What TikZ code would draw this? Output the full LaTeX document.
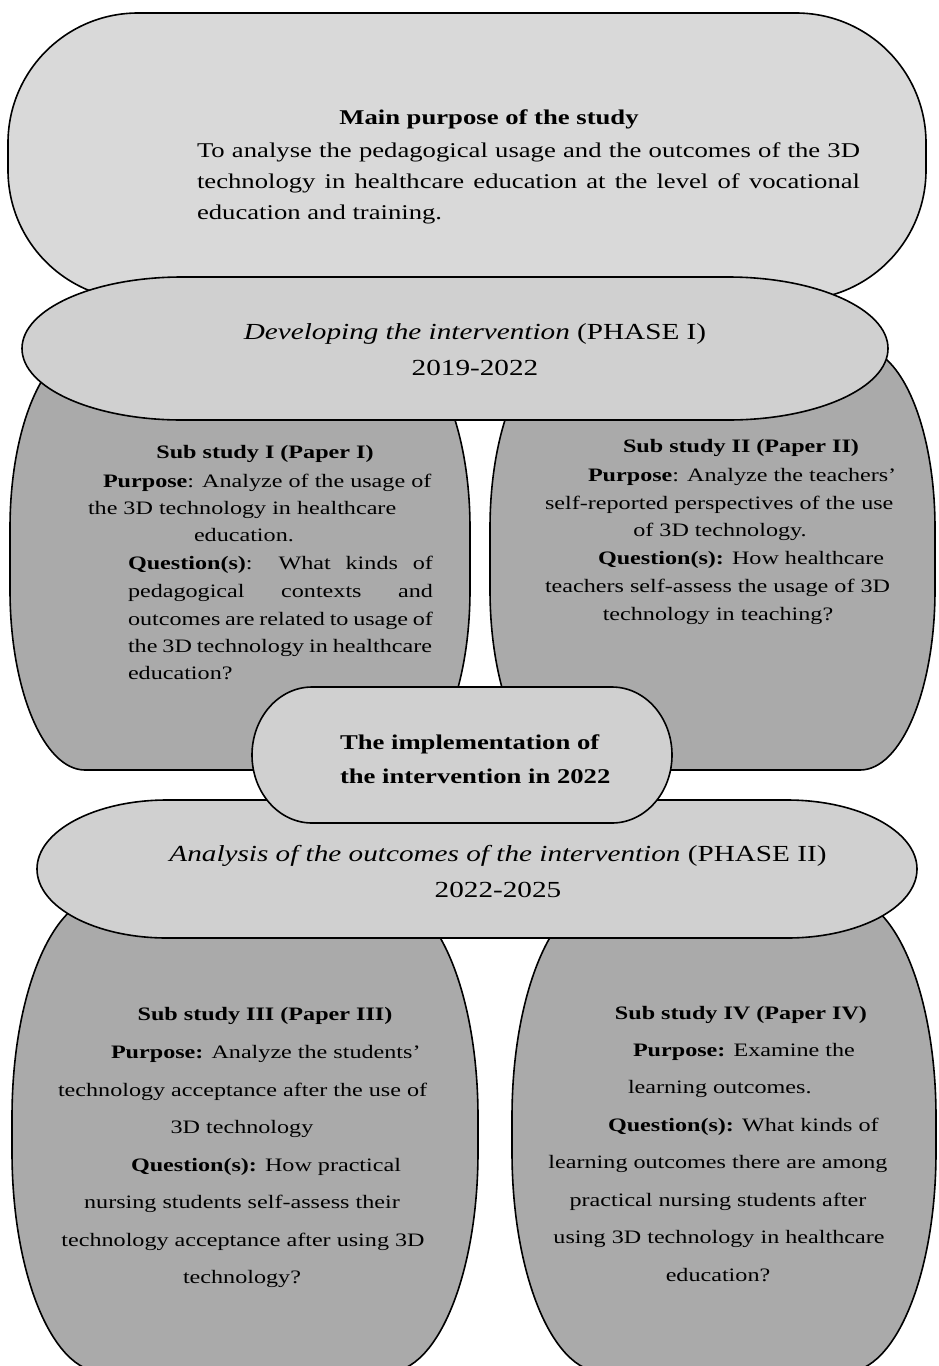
\documentclass[tikz,border=0pt]{standalone}
\usepackage{fontspec}
\setmainfont{Liberation Serif}[FakeStretch=1.27]
\newcommand\fszMain{\fontsize{21}{25}\selectfont}
\newcommand\fszPhase{\fontsize{23}{27}\selectfont}
\newcommand\fszSub{\fontsize{19}{23}\selectfont}
\newcommand\jbox[2]{\hbox to #1pt{#2}}
\definecolor{mainfill}{RGB}{217,217,217}
\definecolor{phasefill}{RGB}{208,208,208}
\definecolor{subfill}{RGB}{170,170,170}
% elliptical-corner rounded rectangle: x1 y1 x2 y2 rx ry style (pixel coords, y down)
\newcommand\rrshape[7]{%
  \path[#7] (#1+#5,-#2) -- (#3-#5,-#2)
    arc[start angle=90,end angle=0,x radius=#5,y radius=#6] -- (#3,-#4+#6)
    arc[start angle=0,end angle=-90,x radius=#5,y radius=#6] -- (#1+#5,-#4)
    arc[start angle=270,end angle=180,x radius=#5,y radius=#6] -- (#1,-#2-#6)
    arc[start angle=180,end angle=90,x radius=#5,y radius=#6] -- cycle;}
\begin{document}
\begin{tikzpicture}[x=1pt,y=1pt,
  box/.style={draw=black,line width=1.6pt},
  lbl/.style={inner sep=0pt,outer sep=0pt}]
\fill[white] (0,0) rectangle (938,-1366);
\useasboundingbox (0,0) rectangle (938,-1366);
\clip (0,0) rectangle (938,-1366);
% shapes
\rrshape{8}{13}{926}{300}{130}{130}{box,fill=mainfill}
\rrshape{10}{348}{470}{770}{75}{180}{box,fill=subfill}
\rrshape{490}{348}{935}{770}{75}{180}{box,fill=subfill}
\rrshape{22}{277}{888}{420}{160}{71.5}{box,fill=phasefill}
\rrshape{12}{897}{478}{1372}{90}{220}{box,fill=subfill}
\rrshape{512}{897}{936}{1372}{90}{220}{box,fill=subfill}
\rrshape{37}{800}{917}{938}{130}{69}{box,fill=phasefill}
\rrshape{252}{687}{672}{823}{60}{68}{box,fill=phasefill}
% main purpose
\node[lbl,anchor=base] (m0) at (489,-124) {\fszMain\bfseries Main purpose of the study};
\node[lbl,anchor=base west] (m1) at (197,-157) {\fszMain\jbox{663}{To analyse the pedagogical usage and the outcomes of the 3D}};
\node[lbl,anchor=base west] (m2) at (197,-188) {\fszMain\jbox{663}{technology in healthcare education at the level of vocational}};
\node[lbl,anchor=base west] (m3) at (197,-219) {\fszMain education and training.};
% phase I
\node[lbl,anchor=base] (p1a) at (475,-339) {\fszPhase\textit{Developing the intervention} (PHASE I)};
\node[lbl,anchor=base] (p1b) at (475,-375) {\fszPhase 2019-2022};
% sub study I
\node[lbl,anchor=base] (s1a) at (265,-458) {\fszSub\bfseries Sub study I (Paper I)};
\node[lbl,anchor=base west] (s1b) at (103,-487) {\fszSub\textbf{Purpose}: Analyze of the usage of};
\node[lbl,anchor=base west] (s1c) at (88,-514) {\fszSub the 3D technology in healthcare};
\node[lbl,anchor=base west] (s1d) at (194,-541) {\fszSub education.};
\node[lbl,anchor=base west] (s1e) at (128,-569) {\fszSub\jbox{305}{\textbf{Question(s)}: What kinds of}};
\node[lbl,anchor=base west] (s1f) at (128,-597) {\fszSub\jbox{305}{pedagogical contexts and}};
\node[lbl,anchor=base west] (s1g) at (128,-625) {\fszSub\jbox{305}{outcomes are related to usage of}};
\node[lbl,anchor=base west] (s1h) at (128,-652) {\fszSub\jbox{304}{the 3D technology in healthcare}};
\node[lbl,anchor=base west] (s1i) at (128,-679) {\fszSub education?};
% sub study II
\node[lbl,anchor=base] (s2a) at (741,-452) {\fszSub\bfseries Sub study II (Paper II)};
\node[lbl,anchor=base west] (s2b) at (588,-481) {\fszSub\textbf{Purpose}: Analyze the teachers’};
\node[lbl,anchor=base west] (s2c) at (545,-509) {\fszSub self-reported perspectives of the use};
\node[lbl,anchor=base] (s2d) at (720,-536) {\fszSub of 3D technology.};
\node[lbl,anchor=base west] (s2e) at (598,-564) {\fszSub\textbf{Question(s):} How healthcare};
\node[lbl,anchor=base west] (s2f) at (545,-592) {\fszSub teachers self-assess the usage of 3D};
\node[lbl,anchor=base] (s2g) at (718,-620) {\fszSub technology in teaching?};
% implementation
\node[lbl,anchor=base west] (i1) at (340,-749) {\fszMain\bfseries The implementation of};
\node[lbl,anchor=base west] (i2) at (340,-783) {\fszMain\bfseries the intervention in 2022};
% phase II
\node[lbl,anchor=base] (p2a) at (498,-861) {\fszPhase\textit{Analysis of the outcomes of the intervention} (PHASE II)};
\node[lbl,anchor=base] (p2b) at (498,-897) {\fszPhase 2022-2025};
% sub study III
\node[lbl,anchor=base] (s3a) at (265,-1020) {\fszSub\bfseries Sub study III (Paper III)};
\node[lbl,anchor=base west] (s3b) at (111,-1058) {\fszSub\textbf{Purpose:} Analyze the students’};
\node[lbl,anchor=base west] (s3c) at (58,-1096) {\fszSub technology acceptance after the use of};
\node[lbl,anchor=base] (s3d) at (242,-1133) {\fszSub 3D technology};
\node[lbl,anchor=base west] (s3e) at (131,-1171) {\fszSub\textbf{Question(s):} How practical};
\node[lbl,anchor=base] (s3f) at (242,-1208) {\fszSub nursing students self-assess their};
\node[lbl,anchor=base] (s3g) at (243,-1246) {\fszSub technology acceptance after using 3D};
\node[lbl,anchor=base] (s3h) at (242,-1283) {\fszSub technology?};
% sub study IV
\node[lbl,anchor=base] (s4a) at (741,-1019) {\fszSub\bfseries Sub study IV (Paper IV)};
\node[lbl,anchor=base west] (s4b) at (633,-1056) {\fszSub\textbf{Purpose:} Examine the};
\node[lbl,anchor=base west] (s4c) at (628,-1093) {\fszSub learning outcomes.};
\node[lbl,anchor=base west] (s4d) at (608,-1131) {\fszSub\textbf{Question(s):} What kinds of};
\node[lbl,anchor=base] (s4e) at (718,-1168) {\fszSub learning outcomes there are among};
\node[lbl,anchor=base] (s4f) at (718,-1206) {\fszSub practical nursing students after};
\node[lbl,anchor=base] (s4g) at (719,-1243) {\fszSub using 3D technology in healthcare};
\node[lbl,anchor=base] (s4h) at (718,-1281) {\fszSub education?};
\end{tikzpicture}
\end{document}
